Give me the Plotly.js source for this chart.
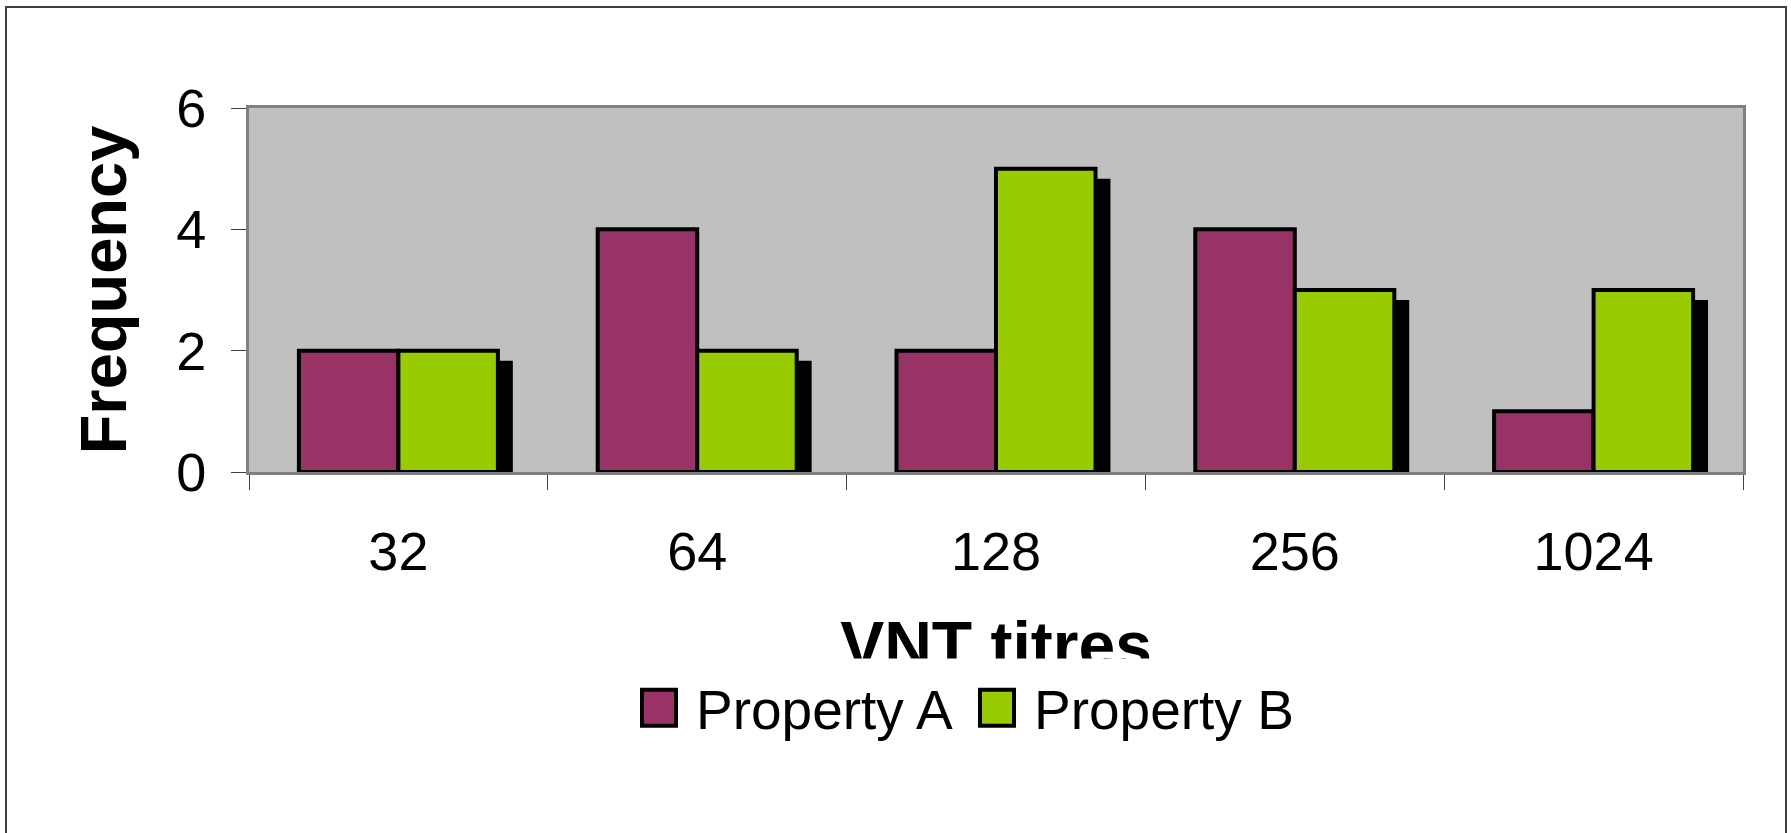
<!DOCTYPE html>
<html>
<head>
<meta charset="utf-8">
<script src="https://cdn.plot.ly/plotly-3.0.1.min.js"></script>
<style>
  html, body { margin: 0; padding: 0; background: #ffffff; }
  #chart { width: 1791px; height: 833px; }
</style>
</head>
<body>
<div id="chart"></div>
<script>
// ---- data ----
const categories = ['32', '64', '128', '256', '1024'];
const seriesNames = ['Property A', 'Property B'];
const propertyA = [2, 4, 2, 4, 1];
const propertyB = [2, 2, 5, 3, 3];
const yTickValues = [0, 2, 4, 6];
const yTickLabels = ['0', '2', '4', '6'];

// ---- styles ----
const FONT = '"Liberation Sans", Arial, sans-serif';
const colorA = '#993366';
const colorB = '#99CC00';
const barWidth = 0.333;
const shadowDx = 0.05;   // shadow shift to the right (category units)
const shadowDy = -0.166; // shadow shift downward (value units)

const traces = [
  { // drop shadow behind the Property B bars
    type: 'bar', x: categories, y: propertyB, base: shadowDy,
    offset: shadowDx, width: barWidth,
    marker: { color: '#000000', line: { width: 0 } },
    showlegend: false, hoverinfo: 'skip', cliponaxis: true
  },
  {
    type: 'bar', name: seriesNames[0], x: categories, y: propertyA,
    offset: -barWidth, width: barWidth,
    marker: { color: colorA, line: { color: '#000000', width: 4 } }
  },
  {
    type: 'bar', name: seriesNames[1], x: categories, y: propertyB,
    offset: 0, width: barWidth,
    marker: { color: colorB, line: { color: '#000000', width: 4 } }
  }
];

const L = 249, R = 48, T = 108, B = 361;
const W = 1791, H = 833;
const pw = W - L - R, ph = H - T - B;
const px = X => (X - L) / pw;          // page px -> paper x
const py = Y => (H - B - Y) / ph;      // page px -> paper y

const layout = {
  width: W, height: H,
  margin: { l: L, r: R, t: T, b: B, pad: 0 },
  paper_bgcolor: '#ffffff',
  plot_bgcolor: '#C0C0C0',
  barmode: 'overlay',
  font: { family: FONT, color: '#000000' },
  xaxis: {
    type: 'category', categoryorder: 'array', categoryarray: categories,
    range: [-0.5, categories.length - 0.5],
    tickson: 'boundaries', ticks: 'outside', ticklen: 15, tickwidth: 1, tickcolor: '#404040',
    showgrid: false, zeroline: false,
    showline: true, linecolor: '#808080', linewidth: 3, mirror: true,
    tickfont: { family: FONT, size: 54, color: '#000000' },
    ticklabelstandoff: 30,
    title: { text: 'VNT titres', font: { family: FONT, size: 66, color: '#000000', weight: 'bold' }, standoff: 43 },
    automargin: false, fixedrange: true
  },
  yaxis: {
    range: [0, 6], tickvals: yTickValues, ticktext: yTickLabels,
    ticks: 'outside', ticklen: 15, tickwidth: 1, tickcolor: '#404040',
    showgrid: false, zeroline: false,
    showline: true, linecolor: '#808080', linewidth: 3, mirror: true,
    tickfont: { family: FONT, size: 54, color: '#000000' },
    ticklabelstandoff: 14,
    title: { text: 'Frequency', font: { family: FONT, size: 65, color: '#000000', weight: 'bold' }, standoff: 29 },
    automargin: false, fixedrange: true
  },
  showlegend: true,
  legend: {
    orientation: 'h', x: px(960), xanchor: 'center', y: py(708), yanchor: 'middle',
    font: { family: FONT, size: 55, color: '#000000' },
    bgcolor: 'rgba(0,0,0,0)', itemwidth: 64, entrywidth: 259, entrywidthmode: 'pixels',
    itemclick: false, itemdoubleclick: false
  },
  shapes: [
    { // chart-area frame
      type: 'rect', xref: 'paper', yref: 'paper', layer: 'above',
      x0: px(6), x1: px(1786), y0: py(850), y1: py(7),
      line: { color: '#404040', width: 2 }, fillcolor: 'rgba(0,0,0,0)'
    }
  ],
  annotations: [
    { // white band that cuts the lower part of the x-axis title, as in the reference
      xref: 'paper', yref: 'paper', x: px(990), y: py(672.5), xanchor: 'center', yanchor: 'middle',
      text: '\u00a0', showarrow: false, width: 440, height: 27, bgcolor: '#ffffff', borderpad: 0
    }
  ]
};

Plotly.newPlot('chart', traces, layout, { displayModeBar: false, staticPlot: true }).then(gd => {
  // enlarge the legend swatches to match the reference
  gd.querySelectorAll('.legend .legendpoints path').forEach(p => {
    p.setAttribute('d', 'M17,18H-17V-18H17Z');
    p.style.strokeWidth = '4px';
    p.style.stroke = '#000000';
  });
});
</script>
</body>
</html>
